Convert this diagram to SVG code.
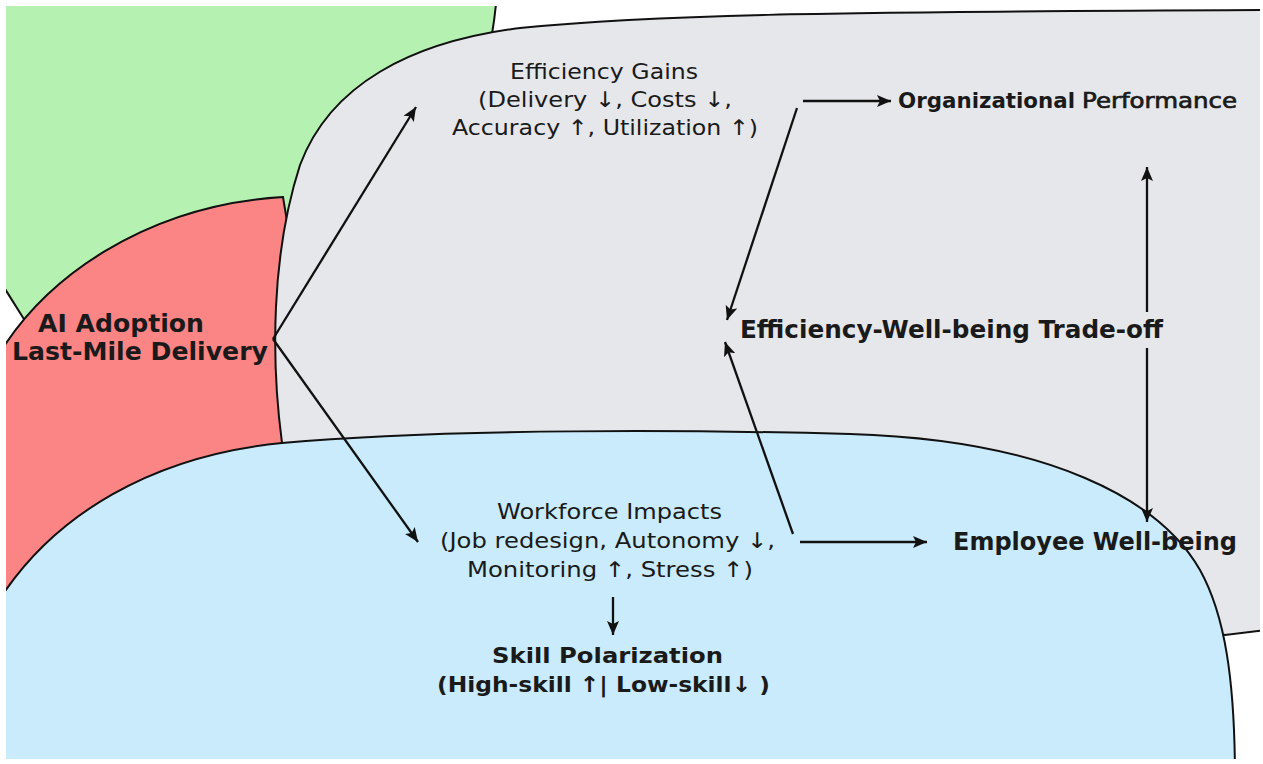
<svg xmlns="http://www.w3.org/2000/svg" width="1263" height="764" viewBox="0 0 1263 764">
  <style>
    .region { stroke: #111; stroke-width: 2; }
    .lbl { font-family: "DejaVu Sans", Verdana, sans-serif; fill: #1a1a1a; }
    .reg { font-size: 21.5px; font-weight: normal; }
    .bold { font-weight: bold; }
    .conn { stroke: #111; stroke-width: 2.3; fill: none; marker-end: url(#head); }
  </style>
  <defs>
    <clipPath id="frame">
      <rect x="6" y="6" width="1254" height="753"/>
    </clipPath>
    <marker id="head" markerUnits="userSpaceOnUse" markerWidth="15" markerHeight="13" viewBox="0 0 15 13" refX="14" refY="6.5" orient="auto">
      <path d="M0,0.5 L14,6.5 L0,12.5 L3,6.5 Z" fill="#111"/>
    </marker>
  </defs>

  <rect width="1263" height="764" fill="#ffffff"/>

  <g id="regions" clip-path="url(#frame)">
    <!-- green backdrop -->
    <path id="region-green" class="region" fill="#b5f1b0" d="M-10,-10 L497,-10 C496,10 494,22 492,34 L400,200 L40,345 L22,316 L-10,265 Z"/>
    <!-- red: AI adoption -->
    <path id="region-red" class="region" fill="#fb8585" d="M-10,370 C40,275 150,205 283,197 L300,300 L290,500 L100,650 L-10,640 Z"/>
    <!-- grey: organisational outcomes -->
    <path id="region-grey" class="region" fill="#e6e7ea" d="M282,443 C271,360 271,255 300,165 C330,85 410,42 520,28 C650,15 800,12 1275,10 L1275,629 L1225,635 L700,520 Z"/>
    <!-- blue: workforce -->
    <path id="region-blue" class="region" fill="#c9ebfb" d="M-10,615 C50,510 160,455 282,443 C450,428 700,430 850,434 C1050,440 1160,500 1200,570 C1225,615 1235,680 1235,780 L-10,780 Z"/>
  </g>

  <g id="connectors">
    <line class="conn" x1="273" y1="339" x2="416" y2="107"/>
    <line class="conn" x1="273" y1="339" x2="418" y2="542"/>
    <line class="conn" x1="803" y1="101" x2="891" y2="101"/>
    <line class="conn" x1="797" y1="108" x2="727" y2="320"/>
    <line class="conn" x1="793" y1="534" x2="725" y2="342"/>
    <line class="conn" x1="800" y1="542" x2="927" y2="542"/>
    <line class="conn" x1="1147" y1="312" x2="1147" y2="167"/>
    <line class="conn" x1="1147" y1="348" x2="1147" y2="522"/>
    <line class="conn" x1="613" y1="597" x2="613" y2="635"/>
  </g>

  <g id="node-ai-adoption">
    <text class="lbl bold" font-size="25" x="38" y="332" textLength="166" lengthAdjust="spacingAndGlyphs">AI Adoption</text>
    <text class="lbl bold" font-size="25" x="12" y="360" textLength="256" lengthAdjust="spacingAndGlyphs">Last-Mile Delivery</text>
  </g>

  <g id="node-efficiency-gains">
    <text class="lbl reg" x="510" y="79" textLength="188" lengthAdjust="spacingAndGlyphs">Efficiency Gains</text>
    <text class="lbl reg" x="478" y="107" textLength="254" lengthAdjust="spacingAndGlyphs">(Delivery ↓, Costs ↓,</text>
    <text class="lbl reg" x="452" y="135" textLength="306" lengthAdjust="spacingAndGlyphs">Accuracy ↑, Utilization ↑)</text>
  </g>

  <g id="node-org-performance">
    <text class="lbl bold" font-size="21" x="898" y="108" textLength="177" lengthAdjust="spacingAndGlyphs">Organizational</text>
    <text class="lbl" font-size="21" x="1082" y="108" textLength="155" lengthAdjust="spacingAndGlyphs" stroke="#1a1a1a" stroke-width="0.7">Performance</text>
  </g>

  <g id="node-trade-off">
    <text class="lbl bold" font-size="24" x="740" y="338" textLength="423" lengthAdjust="spacingAndGlyphs">Efficiency-Well-being Trade-off</text>
  </g>

  <g id="node-workforce-impacts">
    <text class="lbl reg" x="497" y="519" textLength="225" lengthAdjust="spacingAndGlyphs">Workforce Impacts</text>
    <text class="lbl reg" x="440" y="548" textLength="335" lengthAdjust="spacingAndGlyphs">(Job redesign, Autonomy ↓,</text>
    <text class="lbl reg" x="467" y="577" textLength="286" lengthAdjust="spacingAndGlyphs">Monitoring ↑, Stress ↑)</text>
  </g>

  <g id="node-employee-wellbeing">
    <text class="lbl bold" font-size="24" x="953" y="550" textLength="284" lengthAdjust="spacingAndGlyphs">Employee Well-being</text>
  </g>

  <g id="node-skill-polarization">
    <text class="lbl bold" font-size="22" x="492" y="663" textLength="231" lengthAdjust="spacingAndGlyphs">Skill Polarization</text>
    <text class="lbl bold" font-size="22" x="437" y="692" textLength="333" lengthAdjust="spacingAndGlyphs">(High-skill ↑| Low-skill↓ )</text>
  </g>
</svg>
